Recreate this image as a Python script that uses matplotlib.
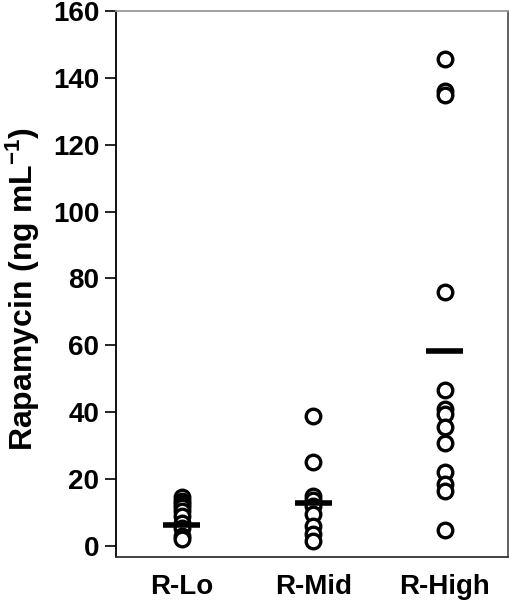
import numpy as np
import matplotlib
matplotlib.use('Agg')
from matplotlib import pyplot as plt

plt.rcParams['font.family'] = ['Liberation Sans', 'DejaVu Sans']
plt.rcParams['font.weight'] = 'bold'
plt.rcParams['mathtext.fontset'] = 'custom'
plt.rcParams['mathtext.rm'] = 'Liberation Sans:bold'
plt.rcParams['mathtext.default'] = 'rm'

groups = ['R-Lo', 'R-Mid', 'R-High']
r_lo = [14.6, 13.5, 12.5, 11.6, 10.5, 9.0, 7.0, 5.5, 3.0, 2.0]
r_mid = [38.8, 25.1, 14.9, 13.8, 12.0, 9.6, 6.0, 3.6, 1.5]
r_high = [145.7, 136.0, 135.0, 76.1, 46.6, 40.9, 39.4, 35.5, 30.7, 22.1, 18.5, 16.4, 4.8]
center_lines = [6.3, 12.8, 58.2]

fig = plt.figure(figsize=(5.1, 6.0), dpi=100)
ax = fig.add_axes([116/510, 1 - 557/600, (508-116)/510, (557-11)/600])

for i, vals in enumerate([r_lo, r_mid, r_high]):
    x = np.full(len(vals), i + 1)
    ax.plot(x, vals, 'o', ms=10.5, mfc='white', mec='black', mew=2.4, zorder=2)
    ax.plot([i + 1 - 0.14, i + 1 + 0.14], [center_lines[i]] * 2, color='black', lw=4, solid_capstyle='butt', zorder=3)

ax.set_xlim(0.5, 3.48)
ax.set_ylim(-3.3, 160)
ax.set_yticks(np.arange(0, 161, 20))
ax.set_xticks([1, 2, 3])
ax.set_xticklabels(groups)
ax.tick_params(axis='y', direction='out', length=8, width=1.2, labelsize=20, pad=4)
ax.tick_params(axis='x', length=0, labelsize=20, pad=12)
for lab in ax.get_xticklabels() + ax.get_yticklabels():
    lab.set_fontweight('bold')

ax.spines['left'].set_color('black')
ax.spines['left'].set_linewidth(1.3)
ax.spines['bottom'].set_color('#333333')
ax.spines['bottom'].set_linewidth(1.3)
ax.spines['right'].set_color('#555555')
ax.spines['right'].set_linewidth(1.3)
ax.spines['top'].set_color('#999999')
ax.spines['top'].set_linewidth(1.3)

ax.set_ylabel(r'Rapamycin (ng mL$^{-1}$)', fontsize=23, fontweight='bold', labelpad=4)
ax.yaxis.set_label_coords(-0.188, 0.49)

fig.savefig('out.png', dpi=100)
